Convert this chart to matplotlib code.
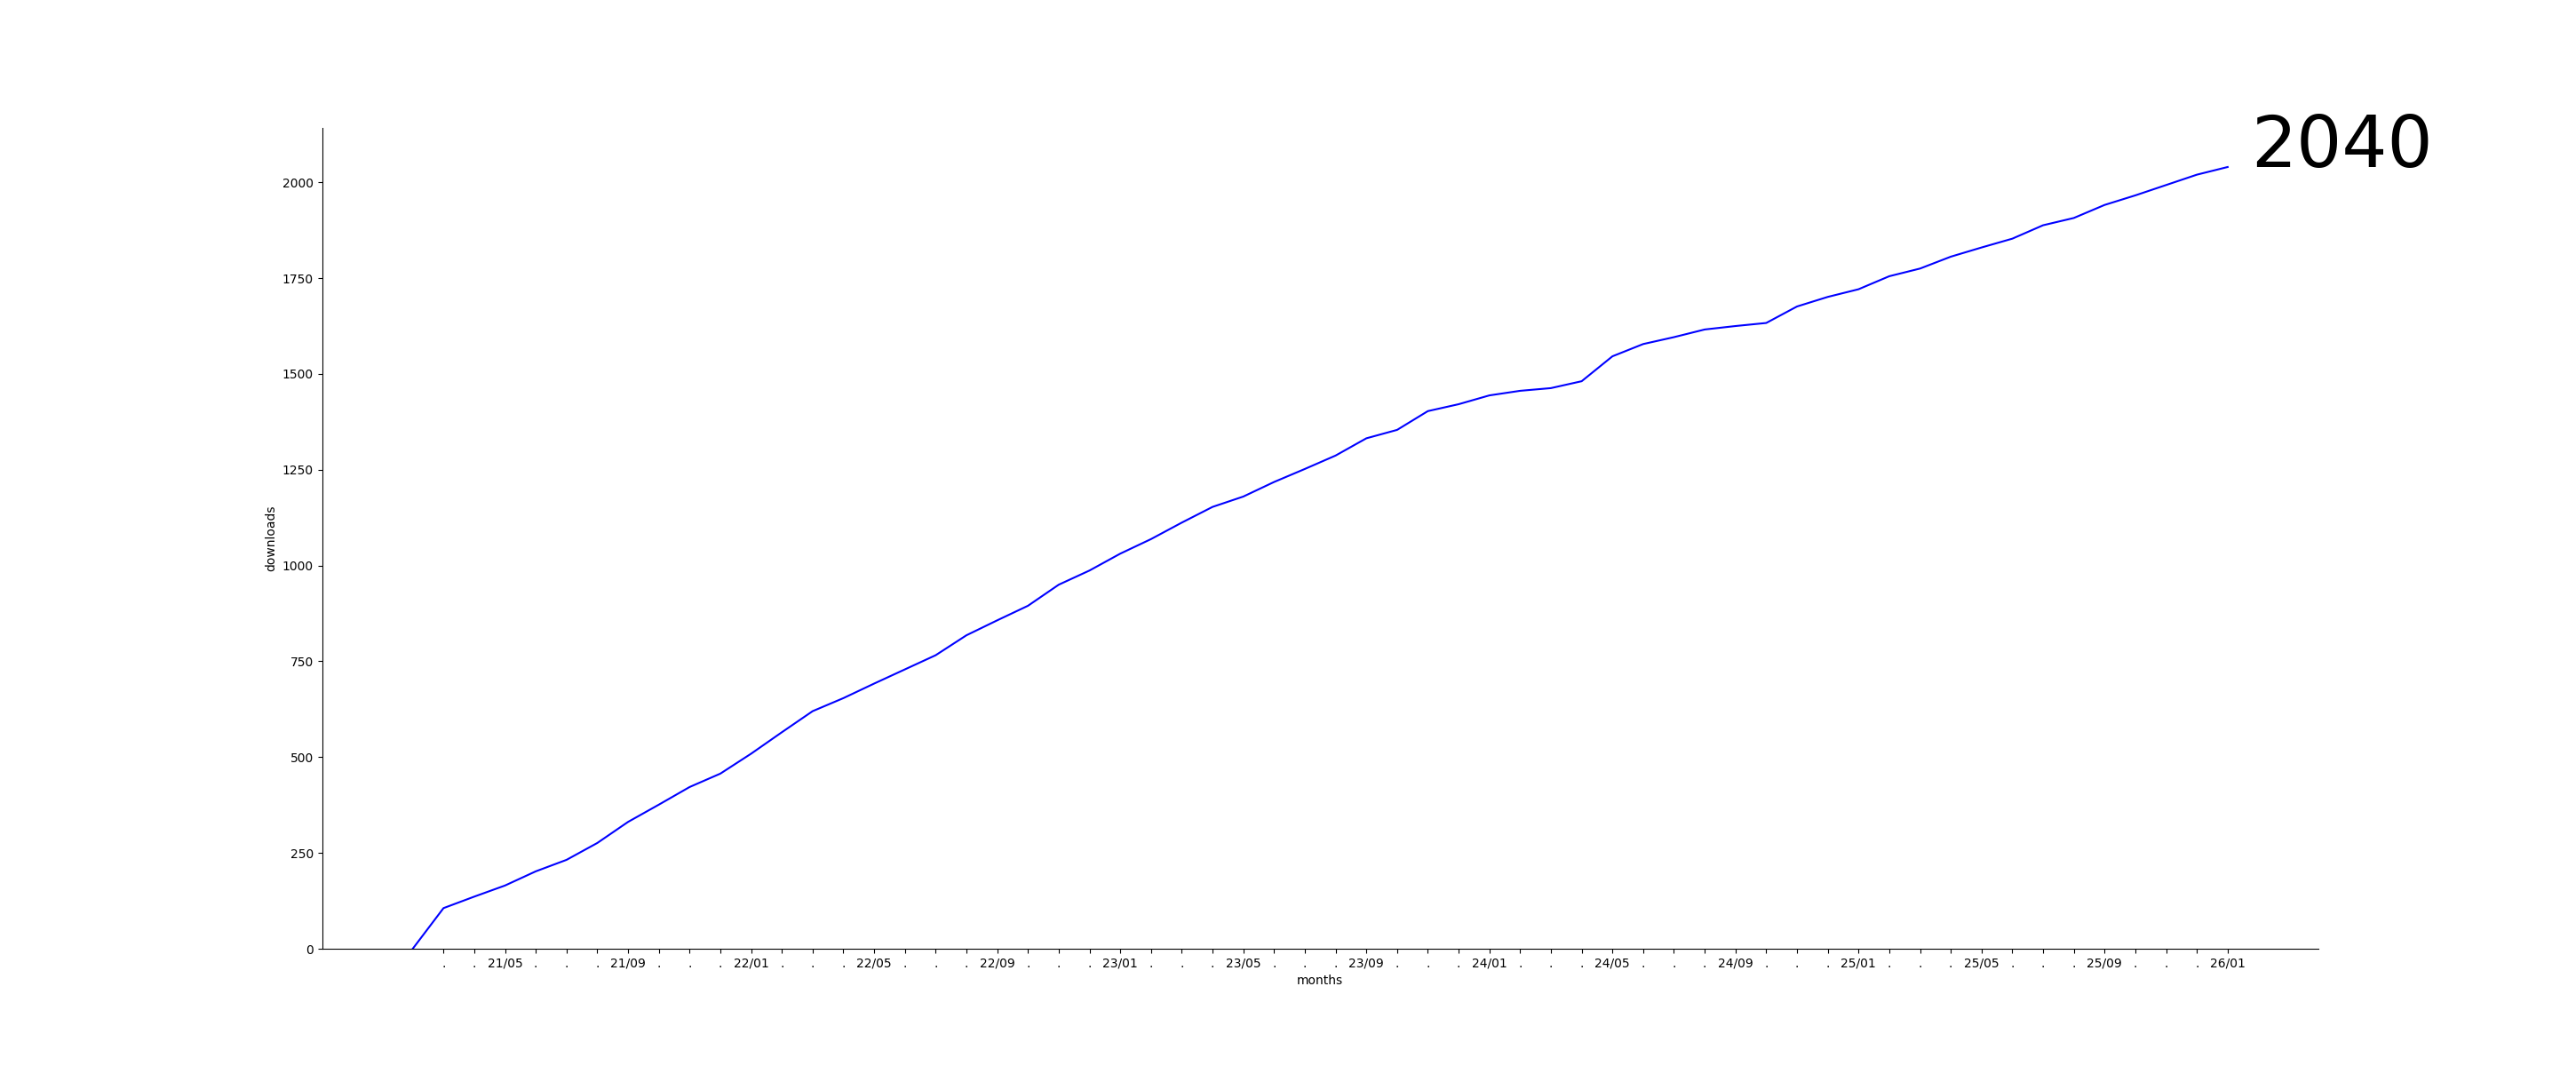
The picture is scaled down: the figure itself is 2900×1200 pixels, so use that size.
import pandas as pd
import matplotlib
matplotlib.use("Agg")
import matplotlib.pyplot as plt

months = pd.period_range("2021-02", "2026-01", freq="M")
downloads = [0, 106, 136, 165, 202, 232, 276, 331, 376, 422,
             457, 509, 565, 620, 654, 692, 729, 766, 818, 857,
             895, 950, 987, 1031, 1069, 1112, 1153, 1180, 1218, 1252,
             1287, 1332, 1354, 1403, 1421, 1444, 1456, 1463, 1481, 1546,
             1578, 1596, 1616, 1625, 1633, 1676, 1701, 1721, 1755, 1775,
             1806, 1830, 1853, 1888, 1907, 1941, 1966, 1993, 2020, 2040]

x = list(range(len(months)))

fig, ax = plt.subplots(figsize=(29, 12), dpi=100)
ax.plot(x, downloads, color="blue")
ax.set_ylim(bottom=0)

ticks = x[1:]
labels = [m.strftime("%y/%m") if m.month in (1, 5, 9) else "." for m in months[1:]]
ax.set_xticks(ticks)
ax.set_xticklabels(labels)

ax.set_xlabel("months")
ax.set_ylabel("downloads")
ax.spines["top"].set_visible(False)
ax.spines["right"].set_visible(False)

ax.text(x[-1] + 0.75, downloads[-1], str(downloads[-1]), fontsize=58)

fig.savefig("out.png")
